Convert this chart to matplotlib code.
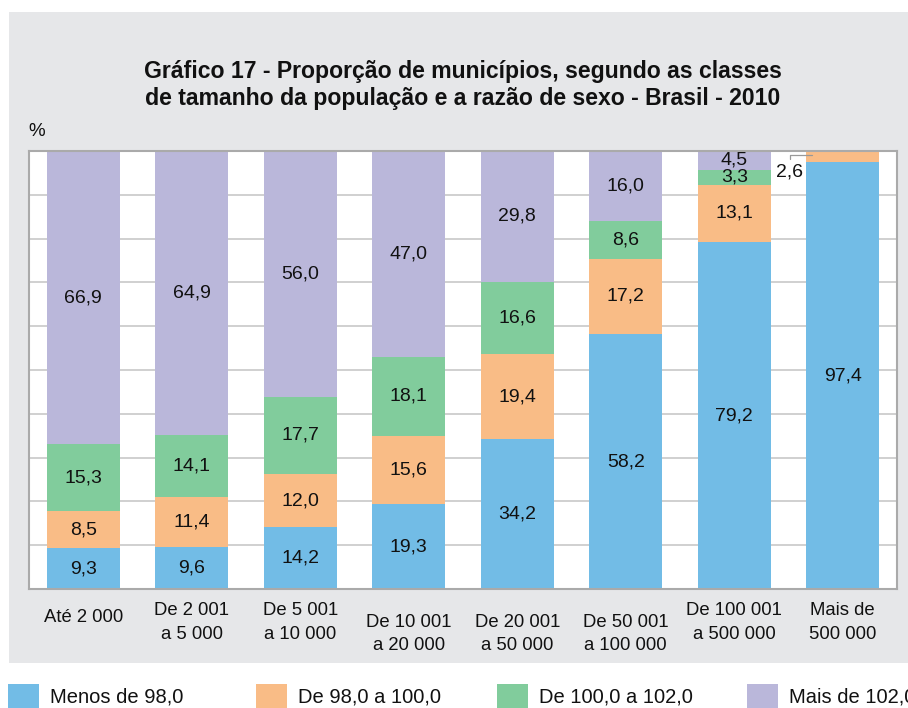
import numpy as np
import matplotlib
matplotlib.use('Agg')
import matplotlib.pyplot as plt
from matplotlib.patches import Rectangle

plt.rcParams['font.family'] = ['Liberation Sans', 'DejaVu Sans']

# Dados
categorias = ['Até 2 000', 'De 2 001\na 5 000', 'De 5 001\na 10 000', 'De 10 001\na 20 000',
              'De 20 001\na 50 000', 'De 50 001\na 100 000', 'De 100 001\na 500 000', 'Mais de\n500 000']
menos_98 = [9.3, 9.6, 14.2, 19.3, 34.2, 58.2, 79.2, 97.4]
de_98_100 = [8.5, 11.4, 12.0, 15.6, 19.4, 17.2, 13.1, 2.6]
de_100_102 = [15.3, 14.1, 17.7, 18.1, 16.6, 8.6, 3.3, 0.0]
mais_102 = [66.9, 64.9, 56.0, 47.0, 29.8, 16.0, 4.5, 0.0]
series_nomes = ['Menos de 98,0', 'De 98,0 a 100,0', 'De 100,0 a 102,0', 'Mais de 102,0']

cores = ['#72bce6', '#f9bc86', '#81cc9c', '#bab7da']
W, H = 908, 708

fig = plt.figure(figsize=(W / 100, H / 100), dpi=100)
fig.patch.set_facecolor('white')

# painel cinza
fig.patches.append(Rectangle((9 / W, 1 - 663 / H), 1.0, (663 - 12) / H,
                             transform=fig.transFigure, facecolor='#e6e7e9',
                             edgecolor='none', zorder=-10))

ax = fig.add_axes([29 / W, 1 - 589 / H, (897 - 29) / W, (589 - 151) / H])
ax.set_facecolor('white')

x = np.arange(len(categorias))
series = [menos_98, de_98_100, de_100_102, mais_102]
base = np.zeros(len(categorias))
for vals, cor in zip(series, cores):
    vals = np.array(vals)
    ax.bar(x, vals, bottom=base, width=0.673, color=cor, zorder=2)
    for i, v in enumerate(vals):
        if v >= 3:
            ax.text(x[i], base[i] + v / 2, f'{v:.1f}'.replace('.', ','),
                    ha='center', va='center', fontsize=14, color='#111111', zorder=3)
    base = base + vals

# rótulo externo 2,6
ax.annotate('2,6', xy=(x[7] - 0.28, menos_98[7] + de_98_100[7] * 0.65),
            xytext=(x[7] - 0.49, 95.2), ha='center', va='center', fontsize=14,
            color='#111111', zorder=3,
            arrowprops=dict(arrowstyle='-', color='#999999', lw=0.9,
                            connectionstyle='angle,angleA=90,angleB=0,rad=0',
                            shrinkA=1, shrinkB=0))

ax.set_xlim(-0.5, len(categorias) - 0.5)
ax.set_ylim(0, 100)
ax.set_yticks(np.arange(10, 100, 10))
ax.set_yticklabels([])
ax.set_xticks([])
ax.tick_params(length=0)
ax.grid(axis='y', color='#c8c8c8', lw=1.2, zorder=0)
for s in ax.spines.values():
    s.set_color('#aaaaaa')
    s.set_linewidth(1.5)

# rótulos do eixo x
y_off = [-0.066, -0.03, -0.03, -0.057, -0.057, -0.057, -0.03, -0.03]
for i, lab in enumerate(categorias):
    ax.text(x[i], y_off[i] * 100, lab, ha='center', va='center' if i == 0 else 'top',
            fontsize=13.3, linespacing=1.5, color='#111111', clip_on=False)

ax.text(-0.43, 104.5, '%', fontsize=13.5, ha='center', va='center', color='#111111')

fig.text(463 / W, 1 - 85 / H,
         'Gráfico 17 - Proporção de municípios, segundo as classes\n'
         'de tamanho da população e a razão de sexo - Brasil - 2010',
         ha='center', va='center', fontsize=16.6, fontweight='bold',
         linespacing=1.25, color='#111111')

# legenda (o último rótulo é cortado na borda, como no original)
leg_x = [8, 256, 497, 747]
for lx, nome, cor in zip(leg_x, series_nomes, cores):
    fig.patches.append(Rectangle((lx / W, 1 - 715 / H), 31 / W, 31 / H,
                                 transform=fig.transFigure, facecolor=cor,
                                 edgecolor='none'))
    fig.text((lx + 42) / W, 1 - 697 / H, nome, ha='left', va='center',
             fontsize=14.5, color='#111111')

fig.savefig('out.png', dpi=100)
